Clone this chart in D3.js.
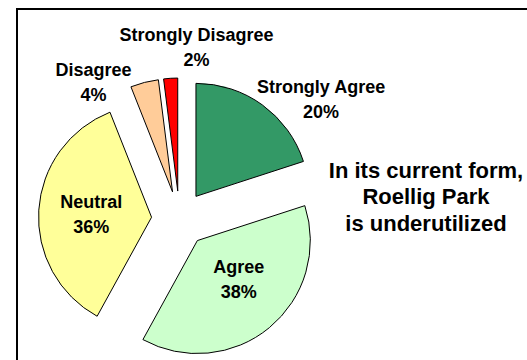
<!DOCTYPE html>
<html>
<head>
<meta charset="utf-8">
<script src="https://cdn.jsdelivr.net/npm/d3@7"></script>
<style>
  html, body { margin: 0; padding: 0; background: #fff; }
  svg { display: block; }
  text { font-family: "Liberation Sans", Arial, sans-serif; font-weight: bold; fill: #000; }
</style>
</head>
<body>
<svg id="chart" width="527" height="360"></svg>
<script>
// ---- data ----
const categories = ["Strongly Agree", "Agree", "Neutral", "Disagree", "Strongly Disagree"];
const values = [20, 38, 36, 4, 2];
const colors = ["#339966", "#CCFFCC", "#FFFF99", "#FFCC99", "#FF0000"];
const titleLines = ["In its current form,", "Roellig Park", "is underutilized"];

// ---- layout (not data) ----
const W = 527, H = 360;
const cx = 179.5, cy = 219, R = 113, explode = 28;
// label placement: angle (deg, clockwise from 12 o'clock) and distance (in radii) from the exploded slice apex
const labelPlacement = [[52, 1.405], [133, 0.5], [273, 0.535], [324.4, 1.2], [7.4, 1.29]];

const svg = d3.select("#chart");

// frame
svg.append("rect")
  .attr("x", 17).attr("y", 9)
  .attr("width", W).attr("height", H)
  .attr("fill", "none").attr("stroke", "#000").attr("stroke-width", 2);

const pie = d3.pie().sort(null).value(d => d)(values);
const arc = d3.arc().innerRadius(0).outerRadius(R);

const g = svg.append("g").attr("transform", `translate(${cx},${cy})`);

const slices = g.selectAll("g.slice").data(pie).enter().append("g")
  .attr("class", "slice")
  .attr("transform", d => {
    const m = (d.startAngle + d.endAngle) / 2;
    return `translate(${explode * Math.sin(m)},${-explode * Math.cos(m)})`;
  });

slices.append("path")
  .attr("d", arc)
  .attr("fill", (d, i) => colors[i])
  .attr("stroke", "#000")
  .attr("stroke-width", 1)
  .attr("stroke-linejoin", "round");

const fs = 18, lh = 25.3;
slices.each(function(d, i) {
  const [aDeg, k] = labelPlacement[i];
  const a = aDeg * Math.PI / 180;
  const lx = k * R * Math.sin(a), ly = -k * R * Math.cos(a);
  const t = d3.select(this).append("text")
    .attr("text-anchor", "middle")
    .style("font-size", fs + "px");
  t.append("tspan").attr("x", lx).attr("y", ly - 6).text(categories[i]);
  t.append("tspan").attr("x", lx).attr("y", ly - 6 + lh).text(values[i] + "%");
});

// title block
const tt = svg.append("text")
  .attr("text-anchor", "middle")
  .style("font-size", "22px");
titleLines.forEach((s, i) => {
  tt.append("tspan").attr("x", 426).attr("y", 177.7 + i * 26.7).text(s);
});
</script>
</body>
</html>
